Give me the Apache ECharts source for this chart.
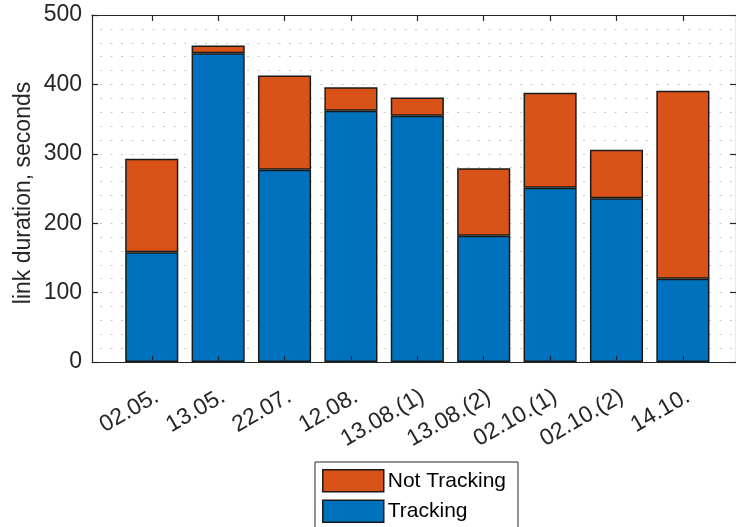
<!DOCTYPE html>
<html>
<head>
<meta charset="utf-8">
<script src="https://cdn.jsdelivr.net/npm/echarts@6/dist/echarts.min.js"></script>
<style>
  html, body { margin: 0; padding: 0; background: #ffffff; }
  #chart { width: 736px; height: 527px; }
</style>
</head>
<body>
<div id="chart"></div>
<script>
// Link sessions (x axis), in plot order
const categories = ['02.05.', '13.05.', '22.07.', '12.08.', '13.08.(1)', '13.08.(2)', '02.10.(1)', '02.10.(2)', '14.10.'];
// Seconds spent tracking per session
const tracking = [158, 445, 277, 362, 355, 182, 251, 236, 120];
// Seconds spent not tracking per session (stacked on top)
const notTracking = [135, 11, 136, 34, 26, 97, 137, 70, 271];
// Y axis ticks
const yTicks = [0, 100, 200, 300, 400, 500];

const font = 'Liberation Sans, Arial, Helvetica, sans-serif';
const axisColor = '#262626';
const tickFs = 23;
const legendFs = 21;

// Plot frame: x runs from 0.1 to 9.8 in category units, categories sit at 1..9
const chartW = 736;
const frame = { left: 92, right: 0, top: 15, bottom: 165 };
const xMin = 0.1, xMax = 9.8;
const unitPx = (chartW - frame.left - frame.right) / (xMax - xMin);
const positions = categories.map((c, i) => i + 1);
// Bar grid: one band per category, aligned with the frame's unit spacing
const barGridLeft = frame.left + (0.5 - xMin) * unitPx;
const barGridRight = chartW - barGridLeft - categories.length * unitPx;

const chart = echarts.init(document.getElementById('chart'), null, { renderer: 'canvas' });

const lineStyle = { color: axisColor, width: 1.2 };
const gridDots = { color: '#c8c8c8', width: 1.2, type: [2, 8.5], dashOffset: -8 };
const barStyle = color => ({ color: color, borderColor: '#1a1a1a', borderWidth: 1.5 });

chart.setOption({
  animation: false,
  backgroundColor: '#ffffff',
  textStyle: { fontFamily: font },
  grid: [
    // 0: labels and dotted grid lines (beneath the bars)
    { left: frame.left, right: frame.right, top: frame.top, bottom: frame.bottom },
    // 1: stacked bars
    { left: barGridLeft, right: barGridRight, top: frame.top, bottom: frame.bottom },
    // 2: box and inward ticks (above the bars)
    { left: frame.left, right: frame.right, top: frame.top, bottom: frame.bottom }
  ],
  legend: {
    orient: 'vertical',
    left: 315,
    top: 462,
    height: 90,
    data: ['Not Tracking', 'Tracking'],
    icon: 'rect',
    itemWidth: 61,
    itemHeight: 22,
    itemGap: 7,
    padding: [7, 12, 5, 7],
    borderColor: axisColor,
    borderWidth: 1,
    textStyle: { fontFamily: font, fontSize: legendFs, lineHeight: 22, color: '#000000', padding: [0, 0, 0, -1] },
    itemStyle: { borderColor: '#1a1a1a', borderWidth: 1.5 }
  },
  xAxis: [
    {
      gridIndex: 0,
      type: 'value',
      min: xMin,
      max: xMax,
      axisLine: { show: false },
      axisTick: { show: false },
      axisLabel: {
        customValues: positions,
        formatter: v => categories[Math.round(v) - 1],
        rotate: 30,
        margin: 36,
        padding: [0, -6, 0, 0],
        fontSize: tickFs,
        fontFamily: font,
        color: axisColor
      },
      splitLine: { show: false }
    },
    {
      gridIndex: 1,
      type: 'category',
      data: categories,
      show: false
    },
    {
      gridIndex: 2,
      type: 'value',
      position: 'bottom',
      min: xMin,
      max: xMax,
      z: 5,
      axisLine: { show: true, onZero: false, lineStyle: lineStyle },
      axisTick: { show: true, inside: true, length: 6, customValues: positions, lineStyle: lineStyle },
      axisLabel: { show: false },
      splitLine: { show: false }
    },
    {
      gridIndex: 2,
      type: 'value',
      position: 'top',
      min: xMin,
      max: xMax,
      z: 5,
      axisLine: { show: true, onZero: false, lineStyle: lineStyle },
      axisTick: { show: true, inside: true, length: 6, customValues: positions, lineStyle: lineStyle },
      axisLabel: { show: false },
      splitLine: { show: false }
    }
  ],
  yAxis: [
    {
      gridIndex: 0,
      type: 'value',
      min: 0,
      max: 500,
      interval: 100,
      axisLine: { show: false },
      axisTick: { show: false },
      axisLabel: {
        customValues: yTicks,
        margin: 10,
        fontSize: tickFs,
        fontFamily: font,
        color: axisColor
      },
      splitLine: { show: true, lineStyle: gridDots },
      minorTick: { show: false, splitNumber: 5 },
      minorSplitLine: { show: true, lineStyle: gridDots }
    },
    {
      gridIndex: 1,
      type: 'value',
      min: 0,
      max: 500,
      show: false,
      splitLine: { show: false }
    },
    {
      gridIndex: 2,
      type: 'value',
      position: 'left',
      min: 0,
      max: 500,
      interval: 100,
      z: 5,
      axisLine: { show: true, onZero: false, lineStyle: lineStyle },
      axisTick: { show: true, inside: true, length: 6, lineStyle: lineStyle },
      axisLabel: { show: false },
      splitLine: { show: false }
    },
    {
      gridIndex: 2,
      type: 'value',
      position: 'right',
      min: 0,
      max: 500,
      interval: 100,
      z: 5,
      axisLine: { show: true, onZero: false, lineStyle: lineStyle },
      axisTick: { show: true, inside: true, length: 6, lineStyle: lineStyle },
      axisLabel: { show: false },
      splitLine: { show: false }
    }
  ],
  graphic: [
    {
      type: 'text',
      x: 24,
      y: 193,
      rotation: Math.PI / 2,
      style: {
        text: 'link duration, seconds',
        font: tickFs + 'px ' + font,
        fill: axisColor,
        align: 'center',
        verticalAlign: 'middle'
      }
    }
  ],
  series: [
    {
      name: 'Tracking',
      type: 'bar',
      stack: 'total',
      xAxisIndex: 1,
      yAxisIndex: 1,
      barWidth: '80%',
      itemStyle: barStyle('#0072BD'),
      data: tracking
    },
    {
      name: 'Not Tracking',
      type: 'bar',
      stack: 'total',
      xAxisIndex: 1,
      yAxisIndex: 1,
      barWidth: '80%',
      itemStyle: barStyle('#D95319'),
      data: notTracking
    }
  ]
});
</script>
</body>
</html>
